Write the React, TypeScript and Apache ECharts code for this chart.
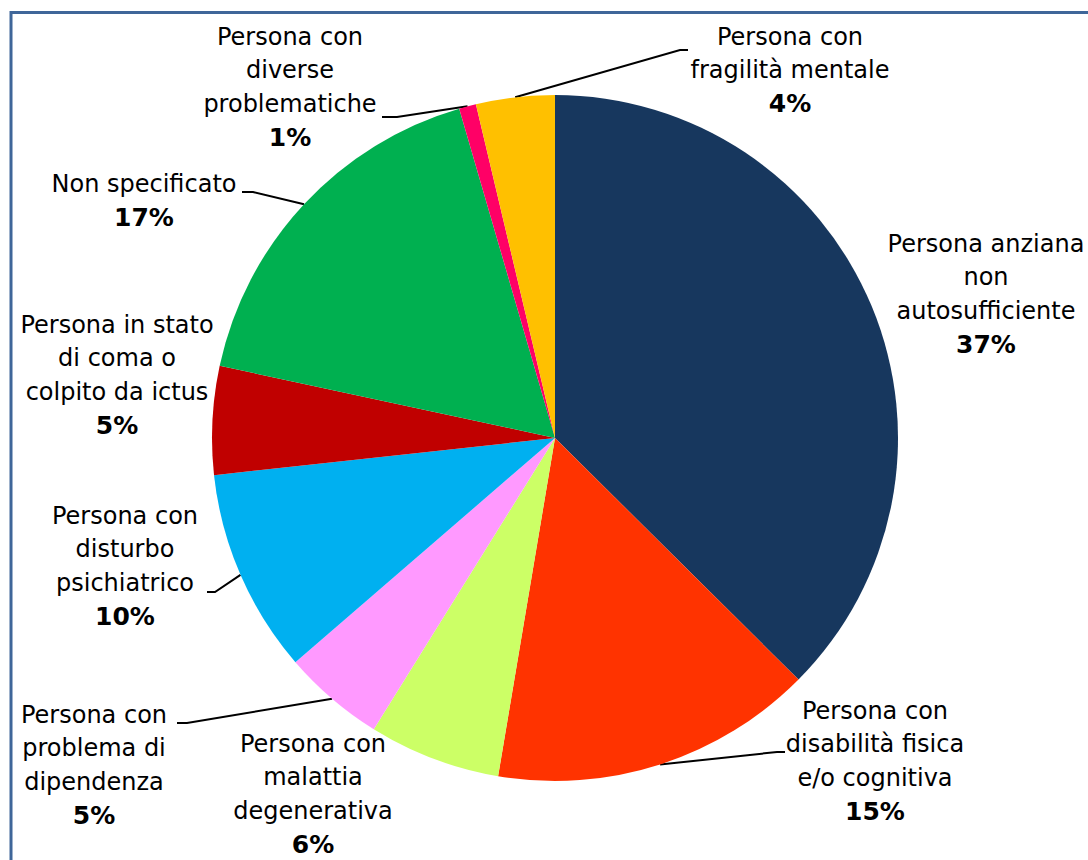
import React, { useEffect, useRef } from "react";
import * as echarts from "echarts";

// ---- Data ----
const CATEGORIES: string[] = [
  "Persona anziana\nnon\nautosufficiente",
  "Persona con\ndisabilità fisica\ne/o cognitiva",
  "Persona con\nmalattia\ndegenerativa",
  "Persona con\nproblema di\ndipendenza",
  "Persona con\ndisturbo\npsichiatrico",
  "Persona in stato\ndi coma o\ncolpito da ictus",
  "Non specificato",
  "Persona con\ndiverse\nproblematiche",
  "Persona con\nfragilità mentale",
];
const VALUES: number[] = [37.4, 15.2, 6.2, 4.8, 9.6, 5.1, 17.1, 0.8, 3.7];
const COLORS: string[] = [
  "#17375E",
  "#FF3300",
  "#CCFF66",
  "#FF99FF",
  "#00B0F0",
  "#C00000",
  "#00B050",
  "#FF0066",
  "#FFC000",
];

// ---- Layout (positions only) ----
const CENTER: [number, number] = [555, 438];
const RADIUS = 343;
const LABEL_POS: [number, number][] = [
  [986, 294],
  [875, 761],
  [313, 794],
  [94, 765],
  [125, 566],
  [117, 375],
  [144, 201],
  [290, 87],
  [790, 70],
];
const LEADER: ([number, number][] | null)[] = [
  null,
  [[777, 752], [785, 752]],
  null,
  [[187, 723], [177, 723]],
  [[215, 592], [207, 592]],
  null,
  [[253, 192], [242, 192]],
  [[397, 117], [382, 117]],
  [[680, 50], [688, 50]],
];

function edgePoint(i: number): [number, number] {
  const total = VALUES.reduce((a, b) => a + b, 0);
  let cum = 0;
  for (let k = 0; k < i; k++) cum += VALUES[k];
  const mid = (cum + VALUES[i] / 2) / total;
  const ang = (Math.PI / 2) - mid * Math.PI * 2;
  return [CENTER[0] + RADIUS * Math.cos(ang), CENTER[1] - RADIUS * Math.sin(ang)];
}

export default function App() {
  const ref = useRef<HTMLDivElement>(null);
  useEffect(() => {
    if (!ref.current) return;
    const chart = echarts.init(ref.current, null, { renderer: "svg" });
    const font = "'DejaVu Sans', Verdana, sans-serif";
    chart.setOption({
      animation: false,
      backgroundColor: "#ffffff",
      graphic: [
        {
          type: "rect",
          shape: { x: 11, y: 12.5, width: 1300, height: 1000 },
          style: { fill: "none", stroke: "#3F6699", lineWidth: 3 },
          silent: true,
        },
      ],
      series: [
        {
          type: "pie",
          center: CENTER,
          radius: RADIUS,
          startAngle: 90,
          clockwise: true,
          avoidLabelOverlap: false,
          silent: true,
          emphasis: { disabled: true },
          itemStyle: { borderWidth: 0 },
          label: {
            show: true,
            position: "outside",
            overflow: "none",
            fontFamily: font,
            color: "#000",
            formatter: (p: any) => `{n|${p.name}}\n{p|${Math.round(p.percent)}%}`,
            rich: {
              n: { fontFamily: font, fontSize: 24, lineHeight: 33.5, color: "#000", align: "center" },
              p: { fontFamily: font, fontSize: 25, fontWeight: "bold", lineHeight: 33.5, color: "#000", align: "center" },
            },
          },
          labelLine: {
            show: true,
            smooth: false,
            lineStyle: { color: "#000", width: 2 },
          },
          labelLayout: (params: any) => {
            const i = params.dataIndex;
            const [x, y] = LABEL_POS[i];
            const res: any = { x, y, align: "center", verticalAlign: "middle" };
            const lead = LEADER[i];
            if (lead) res.labelLinePoints = [edgePoint(i), ...lead];
            return res;
          },
          data: CATEGORIES.map((name, i) => ({
            name,
            value: VALUES[i],
            itemStyle: { color: COLORS[i] },
            labelLine: { show: LEADER[i] !== null },
          })),
        },
      ],
    });
    return () => chart.dispose();
  }, []);
  return (
    <div
      ref={ref}
      style={{ position: "absolute", left: 0, top: 0, width: 1088, height: 860 }}
    />
  );
}
